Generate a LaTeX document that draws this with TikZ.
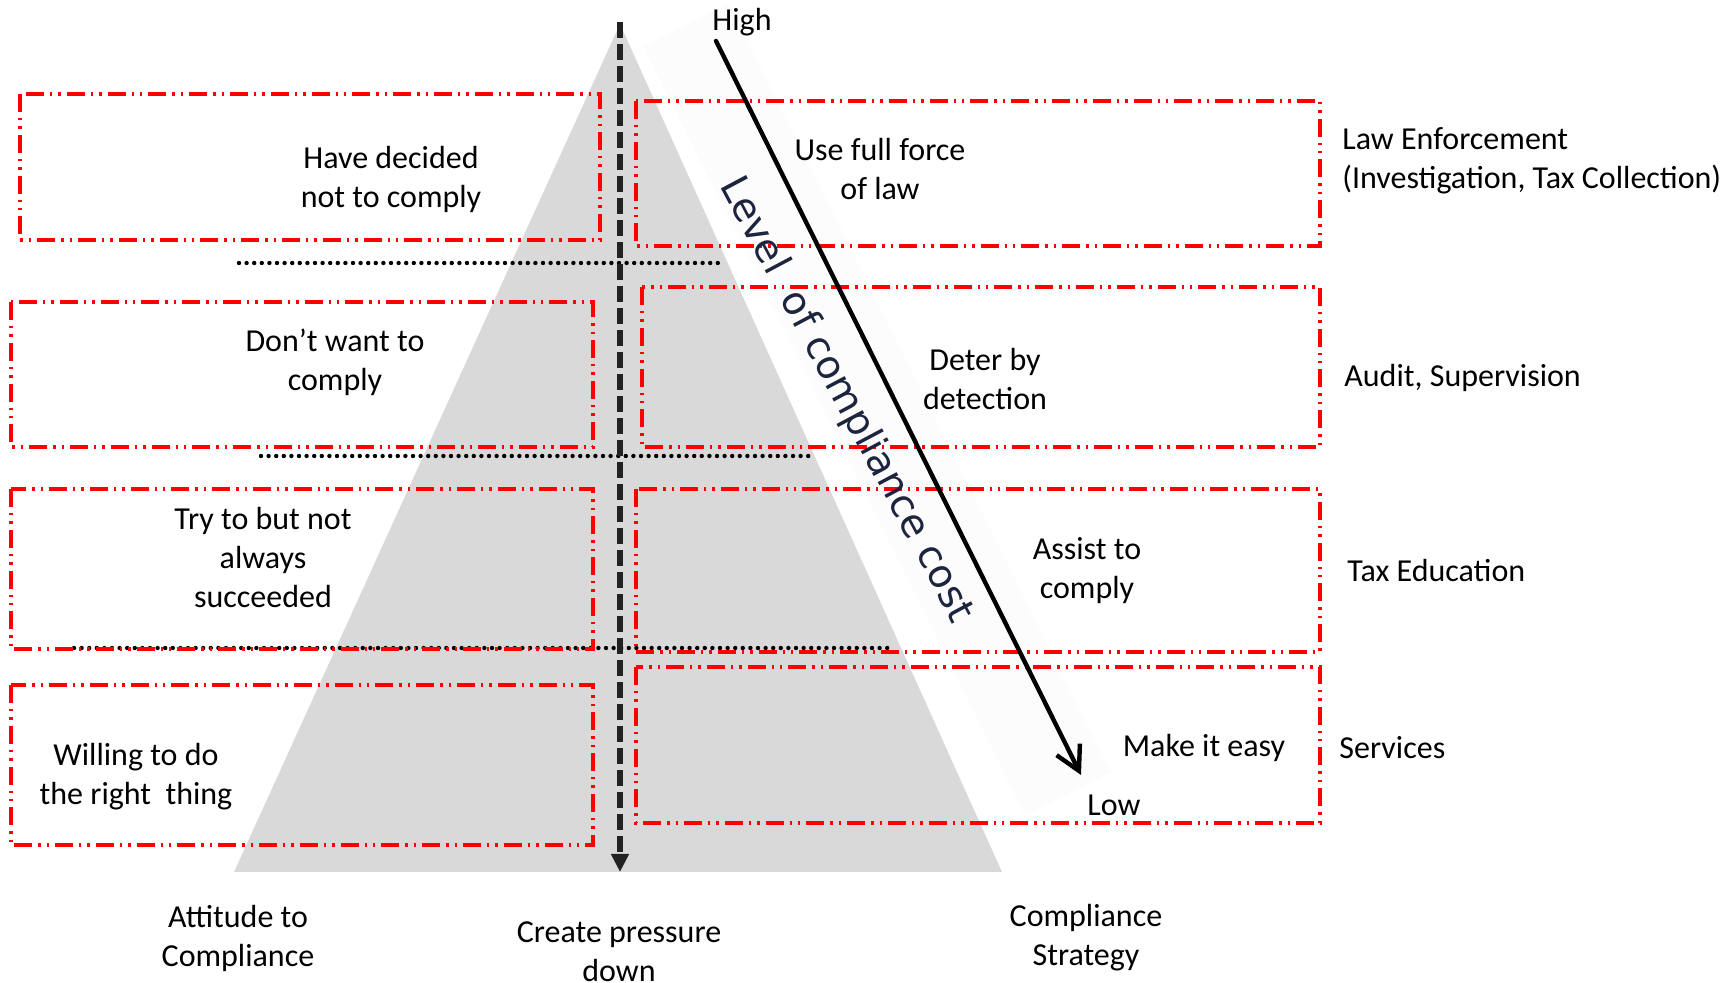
\documentclass[tikz,border=0pt]{standalone}
\usepackage{fontspec}
\setmainfont{Carlito}
\newfontfamily\levelfont{DejaVu Sans}
\usetikzlibrary{arrows.meta}
\definecolor{trigray}{RGB}{217,217,217}
\definecolor{redline}{RGB}{255,0,0}
\definecolor{darkdash}{RGB}{34,34,34}
\definecolor{navytext}{RGB}{28,36,62}
\definecolor{bandgray}{RGB}{252,252,252}
\begin{document}
\begin{tikzpicture}[x=0.5pt,y=-0.5pt,
  redbox/.style={draw=redline, line width=1.6pt, dash pattern=on 9pt off 3pt on 1.2pt off 3pt on 1.2pt off 3pt},
  dotline/.style={draw=black, line width=2.2pt, line cap=round, dash pattern=on 0pt off 3.8pt},
  txt/.style={font=\fontsize{16}{19.5}\selectfont, align=center, inner sep=0pt},
  side/.style={txt, align=left, anchor=west}]
\useasboundingbox (0,0) rectangle (1731,983);
% faint band behind the cost label
\fill[bandgray] (643,47) -- (729,4) -- (1111,772) -- (1025,815) -- cycle;
% pyramid
\fill[trigray] (620,24) -- (1002,872) -- (234,872) -- cycle;
% dotted separators
\draw[dotline] (239,263) -- (722,263);
\draw[dotline] (261,456) -- (813,456);
\draw[dotline] (74,648) -- (893,648);
% pressure arrow
\coordinate (ptop) at (620,22);
\coordinate (pbot) at (620,872);
\draw[darkdash, line width=2.6pt, dash pattern=on 8pt off 3pt,
  -{Triangle[length=9pt,width=8.5pt]}] (ptop) -- (pbot);
% red boxes
\draw[redbox] (20,94) rectangle (600,240);
\draw[redbox] (11,302) rectangle (593,447);
\draw[redbox] (11,489) rectangle (593,649);
\draw[redbox] (11,685) rectangle (593,845);
\draw[redbox] (636,101) rectangle (1320,246);
\draw[redbox] (642,287) rectangle (1320,447);
\draw[redbox] (636,489) rectangle (1320,652);
\draw[redbox] (636,667) rectangle (1320,823);
% cost arrow
\node[txt] (high) at (742,22) {High};
\node[txt] (low) at (1114,805) {Low};
\coordinate (cstart) at (716,41);
\coordinate (cend) at (1081,775);
\draw[black, line width=2.2pt, line cap=round,
  -{Straight Barb[length=12pt,width=13pt,line width=2.2pt]}] (cstart) -- (cend);
\node[inner sep=0pt, rotate=-62, text=navytext, font=\levelfont\fontsize{19.6}{23}\selectfont]
  (cost) at (846,400) {Level\ \ of compliance cost};
% box texts
\node[txt] (t1) at (391,179) {Have decided\\not to comply};
\node[txt] (t2) at (335,362) {Don’t want to\\comply};
\node[txt] (t3) at (263,558) {Try to but not\\always\\succeeded};
\node[txt] (t4) at (136,777) {Willing to do\\the right\ \ thing};
\node[txt] (s1) at (880,169) {Use full force\\of law};
\node[txt] (s2) at (985,379) {Deter by\\detection};
\node[txt] (s3) at (1087,571) {Assist to\\comply};
\node[txt] (s4) at (1204,748) {Make it easy};
% side labels
\node[side] (r1) at (1342,161) {Law Enforcement\\(Investigation, Tax Collection)};
\node[side] (r2) at (1344,378) {Audit, Supervision};
\node[side] (r3) at (1347,571) {Tax Education};
\node[side] (r4) at (1339,748) {Services};
% bottom labels
\node[txt] (b1) at (238,938) {Attitude to\\Compliance};
\node[txt] (b2) at (619,952) {Create pressure\\down};
\node[txt] (b3) at (1086,938) {Compliance\\Strategy};
\end{tikzpicture}
\end{document}
